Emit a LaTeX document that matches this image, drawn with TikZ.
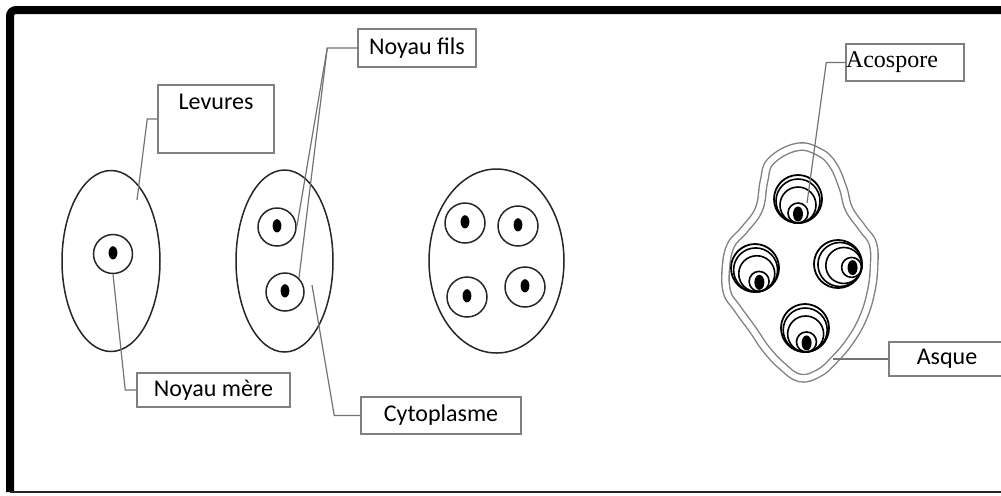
\documentclass[tikz,border=0pt]{standalone}
\usepackage{fontspec}
\setmainfont{Carlito}
\newfontfamily\timesfont{Liberation Serif}
\usetikzlibrary{shapes.geometric,positioning}

\begin{document}
\begin{tikzpicture}[x=0.5pt,y=-0.5pt,
    font=\fontsize{12}{14.5}\selectfont,
    cell/.style={ellipse,draw=black!85,line width=0.75pt,inner sep=0pt},
    nucleus/.style={circle,draw=black!85,line width=0.75pt,inner sep=0pt,
      minimum size=#1,
      path picture={\fill ([yshift=0.6pt]path picture bounding box.center)
        ellipse [x radius=2.2pt,y radius=3.3pt];}},
    nucleus/.default=19.5pt,
    spore/.style={circle,draw=black,line width=0.9pt,inner sep=0pt,minimum size=24pt},
    wall/.style={draw=black!50,line width=0.7pt,double=white,double distance=3pt},
    tag/.style={draw=black!50,line width=0.75pt,fill=white,inner xsep=0pt,inner ysep=0pt},
    leader/.style={draw=black!55,line width=0.6pt}
  ]
    \useasboundingbox (0,0) rectangle (1001,495);

    % the three yeast cells
    \node[cell,minimum width=49pt,minimum height=90.5pt] (levure) at (111,261) {};
    \node[cell,minimum width=48.5pt,minimum height=91pt] (bud) at (284.5,261) {};
    \node[cell,minimum width=67.5pt,minimum height=92pt] (tetrad) at (496.5,261) {};

    \node[nucleus] (mere) at (113,254) {};
    \node[nucleus=19pt] (filsA) at (277,227) {};
    \node[nucleus=19pt] (filsB) at (285,292) {};
    \foreach \p [count=\i] in {{465,223},{518,226},{467,297},{525,287}}
      \node[nucleus=20pt] (q\i) at (\p) {};

    % ascus with its four spores
    \draw[wall] plot[smooth cycle,tension=0.7] coordinates {
      (797,147) (771,161) (764,181) (759,209) (744,230) (731,245)
      (726,267) (727,292) (737,308) (753,330) (766,349) (782,366)
      (800,378) (819,373) (834,360) (850,341) (863,318) (871,292)
      (874,267) (873,244) (863,229) (849,209) (843,188) (833,165)
      (819,152)};
    \foreach \c/\a [count=\i] in {{798,199}/90,{755,268}/73,{838,264}/14,{805,328}/84}{
      \node[spore] (sp\i) at (\c) {};
      \begin{scope}[shift={(\c)},line width=0.8pt]
        \draw (\a:2) circle [radius=22];
        \draw (\a:6) circle [radius=18];
        \draw (\a:14) circle [radius=10];
        \fill (\a:15) ellipse [x radius=5,y radius=7.5];
      \end{scope}
    }

    % labels
    \node[tag,minimum width=58pt,text height=12.4pt,text depth=21.6pt] (levures) at (216,119) {Levures};
    \node[tag,minimum width=76.5pt,minimum height=17pt] (noyaumere) at (213.5,390) {Noyau mère};
    \node[tag,minimum width=59pt,minimum height=19pt] (noyaufils) at (417,48) {Noyau fils};
    \node[tag,minimum width=80pt,minimum height=18.5pt] (cyto) at (441,415.5) {Cytoplasme};
    \node[tag,text width=59pt,minimum height=18.5pt,align=left,
      font=\timesfont\fontsize{12}{14}\selectfont] (acospore) at (905,62.5) {Acospore};
    \node[tag,minimum width=58pt,minimum height=17pt] (asque) at (947,359) {Asque};

    \coordinate (inlev) at (137,200);
    \coordinate (incyto) at (312,285);
    \coordinate (inspore) at (807,203);
    \coordinate (onwall) at (833,359);

    \draw[leader] (levures.west) -- ++(-10,0) -- (inlev);
    \draw[leader] (noyaumere.west) -- ++(-11,0) -- (mere.south);
    \draw[leader] (noyaufils.west) -- ++(-30,0) coordinate (fk) -- (filsA.east);
    \draw[leader] (fk) -- (filsB.north east);
    \draw[leader] (cyto.west) -- ++(-26,0) -- (incyto);
    \draw[leader] (acospore.west) -- ++(-19,0) -- (inspore);
    \draw[leader] (asque.west) -- (onwall);

    % frame
    \draw[line width=4pt,rounded corners=3pt] (1010,10) -- (10,10) -- (10,492);
    \draw[line width=1.2pt,black!85] (10,492) -- (1010,492);
  \end{tikzpicture}
\end{document}
